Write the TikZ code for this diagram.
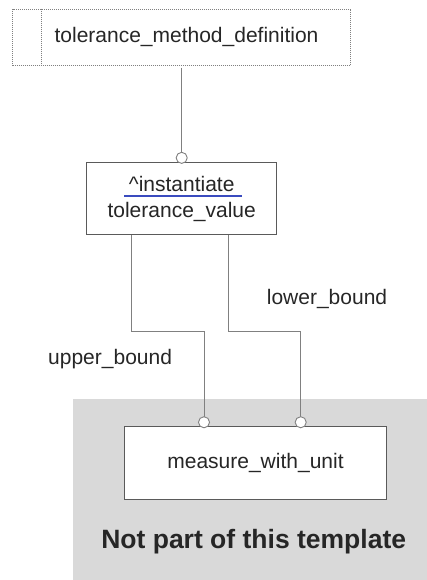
\documentclass[tikz,border=0pt]{standalone}
\usepackage{fontspec}
\setmainfont{Liberation Sans}
\usetikzlibrary{arrows.meta,positioning,calc}
\definecolor{linegray}{HTML}{808080}
\definecolor{boxgray}{HTML}{5A5A5A}
\definecolor{extgray}{HTML}{D9D9D9}
\definecolor{linkblue}{HTML}{3A4BBF}

\begin{document}
\begin{tikzpicture}[x=1pt,y=-1pt,
 every node/.style={font=\fontsize{21}{25}\selectfont,text=black!85},
 entity/.style={draw=boxgray,fill=white,line width=0.9pt,inner sep=0pt},
 dotbox/.style={draw=gray,line width=0.7pt,dash pattern=on 1pt off 1pt,inner sep=0pt},
 conn/.style={draw=linegray,line width=0.9pt,-{Circle[fill=white,length=12pt,width=12pt]}}]
 \useasboundingbox (0,0) rectangle (427,580);
 \fill[extgray] (73.3,399) rectangle (427,580);
 \node[dotbox,minimum width=338pt,minimum height=56.3pt] (tmd) at (181.7,37.2)
  {\hspace*{9.6pt}tolerance\_method\_definition};
 \draw[dotbox] ([xshift=28.6pt]tmd.north west) -- ([xshift=28.6pt]tmd.south west);
 \node[entity,minimum width=190pt,minimum height=72pt] (tv) at (181.7,198.3) {};
 \node[anchor=base,inner sep=0pt] (inst) at (181.7,191) {\textasciicircum instantiate};
 \node[anchor=base,inner sep=0pt] (tvname) at (181.7,217.3) {tolerance\_value};
 \draw[linkblue,line width=1.8pt] ([xshift=-4.5pt,yshift=-4.7pt]inst.base west) -- ([xshift=7pt,yshift=-4.7pt]inst.base east);
 \node[entity,minimum width=262.4pt,minimum height=72.6pt] (mwu) at (255.5,463) {measure\_with\_unit};
 \node[anchor=base,inner sep=0pt,font=\bfseries\fontsize{26.5}{30}\selectfont] (note) at (253.7,548.3) {Not part of this template};
 \draw[conn] ([yshift=-2pt]tmd.south) -- ([yshift=-2pt]tv.north);
 \draw[conn] ([xshift=-50pt]tv.south) -- ++(0,96.4) -| ([xshift=-51.5pt,yshift=-2pt]mwu.north);
 \draw[conn] ([xshift=46.3pt]tv.south) -- ++(0,96.4) -| ([xshift=45.2pt,yshift=-2pt]mwu.north);
 \node[anchor=base west,inner sep=0pt] (lb) at (266.7,304.3) {lower\_bound};
 \node[anchor=base west,inner sep=0pt] (ub) at (48,364.3) {upper\_bound};
\end{tikzpicture}
\end{document}
